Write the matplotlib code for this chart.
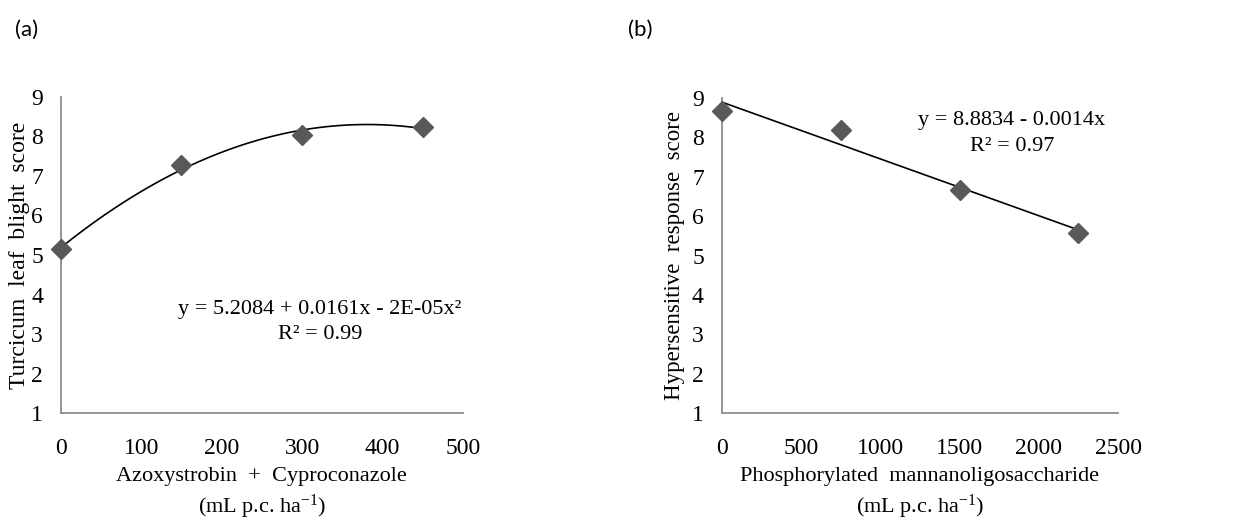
import numpy as np
import matplotlib
matplotlib.use("Agg")
import matplotlib.pyplot as plt

plt.rcParams['font.family'] = ['Liberation Serif', 'DejaVu Serif']
plt.rcParams['mathtext.fontset'] = 'custom'
plt.rcParams['mathtext.rm'] = 'Liberation Serif'
plt.rcParams['mathtext.it'] = 'Liberation Serif:italic'

# Panel (a) data
dose_a = [0, 150, 300, 450]
score_a = [5.15, 7.28, 8.04, 8.24]
eq_a = "y = 5.2084 + 0.0161x - 2E-05x²\nR² = 0.99"

# Panel (b) data
dose_b = [0, 750, 1500, 2250]
score_b = [8.67, 8.18, 6.67, 5.57]
eq_b = "y = 8.8834 - 0.0014x\nR² = 0.97"

fig = plt.figure(figsize=(12.34, 5.21), dpi=100)
ax1 = fig.add_axes([0.0494, 0.207, 0.3256, 0.607])
ax2 = fig.add_axes([0.585, 0.207, 0.321, 0.605])

marker_col = "#595959"
spine_col = "#8c8c8c"
fs = 16


def style_axes(ax, xmax, xstep):
    ax.set_xlim(0, xmax)
    ax.set_ylim(1, 9)
    ax.set_xticks(np.arange(0, xmax + 1, xstep))
    ax.set_yticks(range(1, 10))
    for s in ["top", "right"]:
        ax.spines[s].set_visible(False)
    for s in ["left", "bottom"]:
        ax.spines[s].set_color(spine_col)
        ax.spines[s].set_linewidth(1.3)
    ax.tick_params(length=0, labelsize=17)
    ax.tick_params(axis="x", pad=18)
    ax.tick_params(axis="y", pad=13)


# (a) quadratic trend
style_axes(ax1, 500, 100)
coef_a = np.polyfit(dose_a, score_a, 2)
xx = np.linspace(0, 450, 200)
ax1.plot(xx, np.polyval(coef_a, xx), color="black", lw=1.2)
ax1.plot(dose_a, score_a, "D", color=marker_col, ms=10, clip_on=False, zorder=3)
ax1.text(322, 3.3, eq_a, ha="center", va="center", fontsize=fs, linespacing=1.45)
ax1.set_ylabel("Turcicum  leaf  blight  score", fontsize=17)
ax1.yaxis.set_label_coords(-0.078, 0.5)
ax1.set_xlabel("Azoxystrobin  +  Cyproconazole\n(mL p.c. ha$^{-1}$)", fontsize=fs, linespacing=1.35)
ax1.xaxis.set_label_coords(0.5, -0.17)

# (b) linear trend
style_axes(ax2, 2500, 500)
coef_b = np.polyfit(dose_b, score_b, 1)
xx = np.linspace(0, 2250, 50)
ax2.plot(xx, np.polyval(coef_b, xx), color="black", lw=1.2)
ax2.plot(dose_b, score_b, "D", color=marker_col, ms=10, clip_on=False, zorder=3)
ax2.text(1831, 8.1, eq_b, ha="center", va="center", fontsize=fs, linespacing=1.45)
ax2.set_ylabel("Hypersensitive  response  score", fontsize=16.5)
ax2.yaxis.set_label_coords(-0.092, 0.5)
ax2.set_xlabel("Phosphorylated  mannanoligosaccharide\n(mL p.c. ha$^{-1}$)", fontsize=fs, linespacing=1.35)
ax2.xaxis.set_label_coords(0.5, -0.17)

fig.text(0.012, 0.942, "(a)", fontsize=16, family=["Lato", "DejaVu Sans"], va="center")
fig.text(0.509, 0.942, "(b)", fontsize=16, family=["Lato", "DejaVu Sans"], va="center")

fig.savefig("out.png", dpi=100)
